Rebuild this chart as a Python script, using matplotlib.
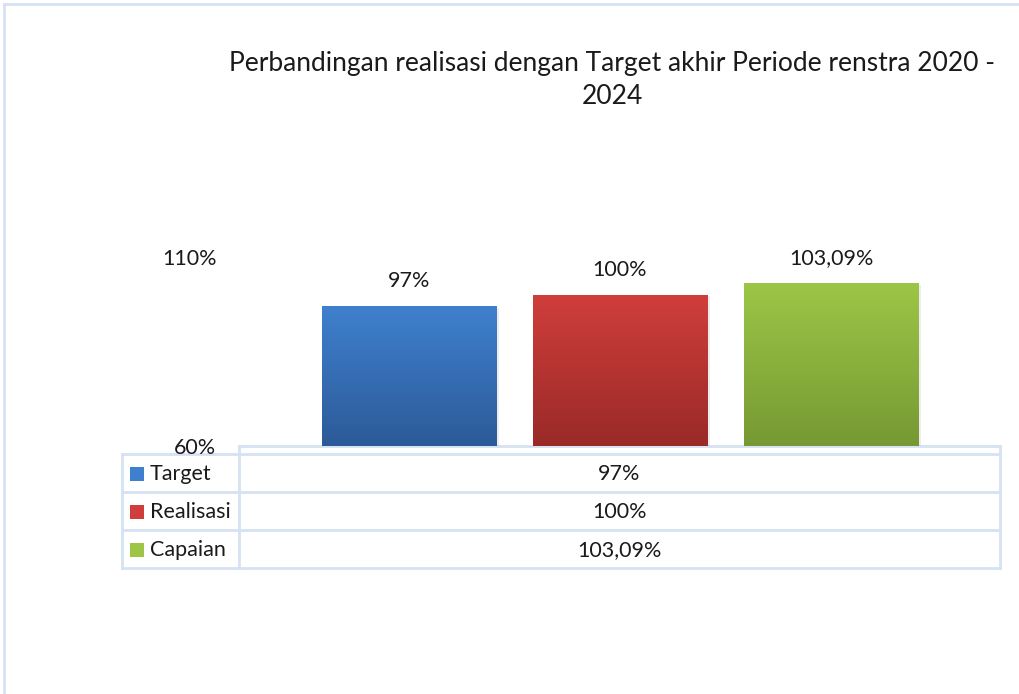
import numpy as np
import matplotlib
matplotlib.use("Agg")
import matplotlib.pyplot as plt
from matplotlib.patches import Rectangle
from matplotlib.colors import LinearSegmentedColormap

title = "Perbandingan realisasi dengan Target akhir Periode renstra 2020 -\n2024"
series = ["Target", "Realisasi", "Capaian"]
values = [0.97, 1.00, 1.0309]
labels = ["97%", "100%", "103,09%"]
ytick_vals = [0.6, 1.1]
ytick_labels = ["60%", "110%"]
top_colors = ["#3F80CE", "#D03E3B", "#9DC646"]
bot_colors = ["#2C5A98", "#992A28", "#769933"]

W, H = 1019, 694
FONT = "Lato"
FS = 15.5
plt.rcParams["font.family"] = [FONT, "DejaVu Sans"]
fig = plt.figure(figsize=(W / 100, H / 100), dpi=100)

def fx(px):
    return px / W

def fy(py):
    return 1 - py / H

# overlay for frame/table
ov = fig.add_axes([0, 0, 1, 1], zorder=0)
ov.set_xlim(0, W)
ov.set_ylim(H, 0)
ov.axis("off")

line_c = "#D6E2F2"
ov.plot([4, 4], [4, H], color=line_c, lw=2)
ov.plot([4, W], [4, 4], color=line_c, lw=2)

ax_l, ax_r, ax_t, ax_b = 240, 1000, 257, 446
ax = fig.add_axes([fx(ax_l), fy(ax_b), fx(ax_r - ax_l), (ax_b - ax_t) / H], zorder=1)
ax.patch.set_alpha(0)
ax.set_ylim(0.6, 1.1)
ax.set_xlim(-1.8, 1.8)
for s in ax.spines.values():
    s.set_visible(False)
ax.set_xticks([])
ax.set_yticks(ytick_vals)
ax.set_yticklabels(ytick_labels, fontsize=FS, color="#1a1a1a")
ax.tick_params(axis="y", length=0, pad=17)

x = np.arange(len(series)) - 1
width = 0.825
bars = ax.bar(x, [v - 0.6 for v in values], bottom=0.6, width=width, color="none", zorder=2)
for i, b in enumerate(bars):
    x0, y0 = b.get_x(), b.get_y()
    w, h = b.get_width(), b.get_height()
    # soft shadow
    ax.add_patch(Rectangle((x0 + 0.015, y0 - 0.004), w, h, color="#000000", alpha=0.07, zorder=1, lw=0))
    cmap = LinearSegmentedColormap.from_list("g%d" % i, [bot_colors[i], top_colors[i]])
    grad = np.linspace(0, 1, 256).reshape(-1, 1)
    im = ax.imshow(grad, extent=[x0, x0 + w, y0, y0 + h], origin="lower", aspect="auto", cmap=cmap, zorder=2)
    im.set_clip_path(b)
    ax.text(x[i], values[i] + 0.04, labels[i], ha="center", va="bottom", fontsize=FS, color="#1a1a1a")
ax.set_xlim(-1.8, 1.8)
ax.set_ylim(0.6, 1.1)

# data table
tl, tc, tr = 122, 239, 1000
rows_y = [454, 492, 530, 568]
ov.plot([tc, tr], [446, 446], color=line_c, lw=2)
for yy in rows_y:
    ov.plot([tl, tr], [yy, yy], color=line_c, lw=2)
ov.plot([tl, tl], [454, 568], color=line_c, lw=2)
ov.plot([tc, tc], [446, 568], color=line_c, lw=2)
ov.plot([tr, tr], [446, 568], color=line_c, lw=2)
for i, name in enumerate(series):
    cy = (rows_y[i] + rows_y[i + 1]) / 2 + 1
    ov.add_patch(Rectangle((130, cy - 7), 14, 14, facecolor=top_colors[i], edgecolor="none"))
    ov.text(150, cy, name, ha="left", va="center", fontsize=FS, color="#1a1a1a")
    ov.text((tc + tr) / 2, cy, labels[i], ha="center", va="center", fontsize=FS, color="#1a1a1a")

fig.text(fx(612), fy(80), title, ha="center", va="center", fontsize=19, color="#1a1a1a", linespacing=1.45)

fig.savefig("out.png", dpi=100)
